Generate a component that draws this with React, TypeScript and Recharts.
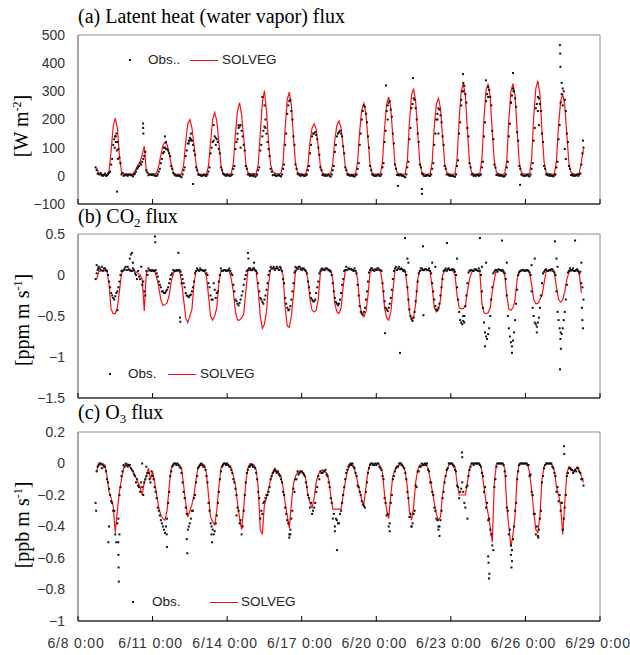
import React from "react";
import { ComposedChart, Line, Scatter, XAxis, YAxis, ReferenceArea } from "recharts";

type Pt = { t: number; v: number };
type Row = (number | null)[];

const _ = null;
const W = 630;
const PLOT_LEFT = 78;
const PLOT_RIGHT = 600;
const SANS = "'Liberation Sans', Arial, sans-serif";
const SERIF = "'Liberation Serif', 'Times New Roman', serif";

// hours since 6/8 0:00
const X_DOMAIN: [number, number] = [0, 504];
const X_TICKS = [0, 72, 144, 216, 288, 360, 432, 504];
const X_TICK_LABELS = ["6/8 0:00", "6/11 0:00", "6/14 0:00", "6/17 0:00", "6/20 0:00", "6/23 0:00", "6/26 0:00", "6/29 0:00"];

// one row per day (6/8 ... 6/28); values every 2 h
const EVEN_HOURS = [0, 2, 4, 6, 8, 10, 12, 14, 16, 18, 20, 22];
const ODD_HOURS = [1, 3, 5, 7, 9, 11, 13, 15, 17, 19, 21, 23];

// (a) latent heat flux [W m-2]
const LE_TICKS = [-100, 0, 100, 200, 300, 400, 500];
const leSim: Row[] = [
  [_, _, _, _, _, _, _, _, _, 28, 10, 6],
  [5, 4, 5, 18, 90, 175, 205, 170, 70, 15, 8, 6],
  [6, 5, 5, 12, 25, 40, 50, 75, 105, 15, 8, 6],
  [6, 6, 10, 35, 75, 108, 120, 112, 80, 40, 12, 6],
  [5, 5, 8, 40, 120, 185, 200, 170, 110, 40, 10, 5],
  [5, 4, 6, 35, 120, 200, 225, 195, 120, 40, 10, 6],
  [6, 5, 8, 45, 150, 230, 260, 215, 135, 45, 12, 8],
  [8, 6, 8, 40, 150, 260, 303, 230, 120, 40, 15, 10],
  [8, 6, 10, 45, 170, 270, 297, 250, 140, 45, 12, 8],
  [6, 5, 8, 40, 120, 170, 185, 165, 105, 35, 10, 6],
  [6, 5, 8, 45, 130, 180, 195, 170, 105, 35, 10, 6],
  [5, 5, 8, 50, 160, 235, 257, 220, 130, 40, 10, 6],
  [6, 5, 8, 50, 170, 255, 280, 240, 140, 45, 12, 8],
  [6, 5, 8, 55, 190, 285, 310, 265, 150, 50, 12, 8],
  [6, 5, 8, 50, 175, 255, 275, 240, 140, 45, 12, 8],
  [6, 5, 8, 60, 200, 300, 328, 285, 160, 50, 12, 8],
  [6, 5, 8, 60, 205, 305, 327, 280, 155, 50, 12, 8],
  [6, 5, 8, 55, 200, 300, 327, 285, 160, 50, 12, 8],
  [6, 5, 8, 60, 210, 310, 337, 290, 160, 50, 12, 8],
  [6, 5, 8, 55, 180, 265, 290, 250, 145, 45, 12, 8],
  [6, 5, 10, 50, 95, _, _, _, _, _, _, _],
];
const leObs: Row[] = [
  [_, _, _, _, _, _, _, _, 30, 8, 5, 2],
  [3, 0, 5, 15, 60, 130, 150, 95, 45, 10, 3, 5],
  [4, 2, -2, 8, 25, 35, 40, 60, 85, 12, 5, 3],
  [2, 0, 5, 25, 60, 85, 95, 90, 70, 25, 5, 0],
  [0, -2, 5, 30, 90, 125, 130, 110, 75, 20, 3, 0],
  [3, 0, 5, 30, 100, 125, 135, 120, 80, 20, 5, 0],
  [2, 0, 5, 35, 120, 170, 180, 140, 90, 25, 5, 2],
  [0, -3, 5, 30, 110, 160, 170, 120, 70, 15, 3, 0],
  [2, 0, 5, 40, 150, 250, 270, 200, 110, 25, 5, 0],
  [3, 0, 5, 35, 110, 150, 155, 130, 75, 20, 5, 2],
  [2, 0, 5, 35, 110, 150, 160, 140, 80, 20, 3, 0],
  [0, -3, 5, 45, 150, 230, 245, 190, 100, 20, 3, 0],
  [2, 0, 5, 45, 160, 250, 265, 210, 115, 25, 5, 2],
  [0, -3, 5, 50, 170, 255, 270, 200, 120, 30, 5, 0],
  [2, 0, 5, 45, 150, 220, 235, 190, 110, 25, 5, 0],
  [0, -2, 5, 55, 190, 300, 320, 260, 140, 30, 5, 2],
  [2, 0, 5, 50, 190, 290, 305, 250, 130, 30, 5, 0],
  [0, -3, 5, 50, 185, 285, 300, 245, 125, 25, 3, 0],
  [2, 0, 5, 45, 170, 255, 275, 230, 120, 25, 5, 0],
  [0, -2, 5, 50, 180, 290, 300, 230, 120, 25, 5, 2],
  [2, 0, 8, 80, _, _, _, _, _, _, _, _],
];
const leObsEven: Row[] = [
  [_, _, _, _, _, _, _, _, _, 20, 6, 10],
  [0, 8, 2, 10, 40, 110, 140, 120, 65, 5, 0, 2],
  [0, 5, 3, 5, 15, 30, 45, 50, 70, 20, 2, 5],
  [5, 2, 0, 15, 45, 80, 100, 95, 80, 35, 10, 2],
  [2, 0, -5, 20, 70, 115, 135, 125, 90, 30, 5, 3],
  [0, 5, 0, 15, 80, 120, 140, 130, 95, 30, 8, 2],
  [5, 0, 2, 25, 95, 150, 175, 160, 110, 35, 5, 0],
  [2, 5, 0, 20, 90, 140, 175, 150, 95, 25, 2, 5],
  [0, 3, -2, 25, 110, 220, 265, 230, 140, 40, 8, 2],
  [5, 0, 2, 20, 80, 140, 150, 145, 100, 30, 3, 0],
  [0, 5, -3, 20, 85, 140, 155, 150, 105, 30, 5, 2],
  [3, 0, 2, 25, 110, 200, 250, 220, 140, 35, 5, 0],
  [0, 5, 0, 30, 120, 230, 260, 235, 150, 40, 3, 2],
  [5, 0, -5, 30, 130, 240, 275, 240, 150, 40, 8, 0],
  [0, 3, 0, 25, 110, 200, 240, 215, 140, 35, 5, 2],
  [2, 0, -3, 35, 150, 270, 330, 290, 170, 45, 5, 0],
  [0, 5, 2, 30, 140, 265, 315, 280, 160, 40, 3, 2],
  [3, 0, 0, 30, 140, 260, 310, 275, 155, 35, 5, 0],
  [0, 5, -2, 25, 125, 240, 280, 255, 150, 35, 5, 2],
  [5, 0, 2, 30, 130, 260, 310, 270, 150, 35, 3, 0],
  [0, 5, 5, 40, 100, _, _, _, _, _, _, _],
];
const leObsExtra: [number, number][] = [
  [37.7, -56], [36.5, 120], [37.5, 90], [38.5, 60], [35.5, 100], [36.2, 140], [62.8, 186], [62.9, 170],
  [63.1, 150], [111, -29], [84, 140], [85, 120], [83, 100], [107, 115], [108, 125], [109, 150],
  [131, 180], [133, 110], [155, 180], [157, 100], [154, 130], [178, 280], [180, 250], [181, 200],
  [297.4, 321], [299, 200], [309, -36], [323.4, 347], [332, -47], [332.2, -64], [347, 200], [348, 150],
  [370, 250], [371.7, 361], [372, 300], [393.9, 339], [396, 280], [418, 260], [420, 365], [420.5, 300],
  [426.8, -32], [444, 230], [445, 180], [465.3, 464], [465.6, 434], [465.8, 387], [467, 330], [468, 250],
  [470, 95], [471, 60], [487.6, 125],
];

// (b) CO2 flux [ppm m s-1]
const CO2_TICKS = [-1.5, -1, -0.5, 0, 0.5];
const co2Sim: Row[] = [
  [_, _, _, _, _, _, _, _, _, -0.05, 0.04, 0.05],
  [0.06, 0.05, 0.04, -0.12, -0.42, -0.47, -0.47, -0.4, -0.2, 0.02, 0.06, 0.06],
  [0.06, 0.06, 0.05, 0.05, 0.04, 0.02, 0, -0.05, -0.44, 0.03, 0.05, 0.05],
  [0.05, 0.05, -0.03, -0.15, -0.3, -0.37, -0.36, -0.34, -0.25, -0.08, 0.02, 0.05],
  [0.06, 0.05, -0.08, -0.3, -0.52, -0.58, -0.5, -0.42, -0.1, 0.05, 0.06, 0.06],
  [0.06, 0.05, -0.02, -0.25, -0.5, -0.55, -0.5, -0.4, -0.1, 0.05, 0.06, 0.06],
  [0.06, 0.05, -0.05, -0.2, -0.45, -0.55, -0.55, -0.52, -0.48, -0.2, 0.05, 0.06],
  [0.07, 0.06, 0.04, -0.18, -0.5, -0.65, -0.6, -0.45, -0.1, 0.07, 0.08, 0.08],
  [0.08, 0.07, 0.06, 0, -0.4, -0.62, -0.64, -0.5, -0.25, 0.05, 0.07, 0.07],
  [0.07, 0.07, 0.05, -0.05, -0.3, -0.43, -0.45, -0.43, -0.3, 0.03, 0.07, 0.07],
  [0.07, 0.07, 0.06, -0.05, -0.35, -0.45, -0.47, -0.4, -0.15, 0.05, 0.07, 0.07],
  [0.07, 0.06, 0.05, -0.05, -0.35, -0.48, -0.51, -0.45, -0.25, 0.03, 0.06, 0.06],
  [0.06, 0.06, 0.05, -0.1, -0.4, -0.52, -0.55, -0.45, -0.2, 0.05, 0.07, 0.07],
  [0.07, 0.06, 0.04, -0.15, -0.45, -0.55, -0.52, -0.35, -0.05, 0.05, 0.06, 0.07],
  [0.07, 0.06, 0.04, -0.15, -0.4, -0.45, -0.42, -0.3, 0, 0.05, 0.06, 0.07],
  [0.06, 0.05, 0, -0.25, -0.4, -0.41, -0.41, -0.38, -0.2, -0.05, 0.03, 0.06],
  [0.06, 0.05, 0.04, -0.35, -0.46, -0.47, -0.46, -0.4, -0.2, -0.05, 0.06, 0.06],
  [0.06, 0.05, 0, -0.25, -0.42, -0.43, -0.4, -0.3, -0.05, 0.05, 0.06, 0.06],
  [0.06, 0.05, 0.03, -0.12, -0.3, -0.35, -0.35, -0.3, -0.25, -0.1, 0.04, 0.05],
  [0.05, 0.05, 0.03, -0.15, -0.3, -0.33, -0.3, -0.2, -0.05, 0.03, 0.05, 0.05],
  [0.05, 0.05, 0.02, -0.22, _, _, _, _, _, _, _, _],
];
const co2Obs: Row[] = [
  [_, _, _, _, _, _, _, _, -0.05, 0.06, 0.08, 0.1],
  [0.08, 0.06, 0, -0.15, -0.25, -0.3, -0.22, -0.15, 0, 0.05, 0.08, 0.06],
  [0.07, 0.05, 0.08, 0.02, -0.05, -0.02, 0.1, -0.08, -0.25, 0, 0.06, 0.05],
  [0.05, 0.06, -0.02, -0.12, -0.2, -0.22, -0.2, -0.15, -0.05, 0.02, 0.05, 0.06],
  [0.06, 0.04, -0.05, -0.15, -0.25, -0.27, -0.24, -0.15, 0.02, 0.08, 0.05, 0.06],
  [0.05, 0.06, 0, -0.15, -0.3, -0.1, -0.28, -0.2, 0, 0.05, 0.06, 0.05],
  [0.06, 0.05, 0, -0.2, -0.32, -0.37, -0.3, -0.2, -0.05, 0.05, 0.08, 0.06],
  [0.08, 0.06, 0.02, -0.2, -0.3, -0.35, -0.25, -0.1, 0.05, 0.08, 0.1, 0.08],
  [0.08, 0.1, 0.05, -0.1, -0.35, -0.43, -0.38, -0.2, 0.03, 0.08, 0.1, 0.08],
  [0.08, 0.06, 0.02, -0.15, -0.28, -0.32, -0.3, -0.15, 0.02, 0.07, 0.06, 0.08],
  [0.07, 0.05, 0, -0.2, -0.33, -0.37, -0.3, -0.12, 0.05, 0.1, 0.08, 0.07],
  [0.06, 0.08, 0.02, -0.25, -0.45, -0.48, -0.4, -0.2, 0.03, 0.08, 0.06, 0.07],
  [0.08, 0.06, 0.05, -0.2, -0.4, -0.44, -0.35, -0.18, 0.05, 0.1, 0.08, 0.07],
  [0.07, 0.06, 0, -0.3, -0.5, -0.56, -0.45, -0.2, 0.02, 0.08, 0.06, 0.07],
  [0.06, 0.08, 0.02, -0.2, -0.38, -0.43, -0.35, -0.15, 0.05, 0.08, 0.07, 0.06],
  [0.07, 0.06, 0, -0.3, -0.55, -0.6, -0.5, -0.25, 0.03, 0.06, 0.05, 0.07],
  [0.06, 0.08, 0, -0.4, -0.7, -0.78, -0.65, -0.3, 0.02, 0.06, 0.04, 0.06],
  [0.05, 0.04, -0.05, -0.5, -0.75, -0.87, -0.7, -0.35, 0, 0.05, 0.06, 0.05],
  [0.06, 0.05, 0, -0.4, -0.58, -0.63, -0.52, -0.25, 0.02, 0.06, 0.05, 0.06],
  [0.07, 0.05, 0, -0.45, -0.65, -0.72, -0.55, -0.3, 0.03, 0.08, 0.06, 0.05],
  [0.06, 0.05, 0.04, -0.15, _, _, _, _, _, _, _, _],
];
const co2ObsEven: Row[] = [
  [_, _, _, _, _, _, _, _, _, 0.02, 0.1, 0.06],
  [0.05, 0.08, 0.05, -0.08, -0.22, -0.28, -0.26, -0.2, -0.08, 0.05, 0.06, 0.1],
  [0.1, 0.06, 0.05, 0.06, 0, 0.05, -0.05, -0.12, -0.2, 0.05, 0.08, 0.06],
  [0.06, 0.05, 0.02, -0.08, -0.15, -0.2, -0.22, -0.18, -0.1, 0, 0.06, 0.05],
  [0.05, 0.06, 0, -0.1, -0.22, -0.26, -0.25, -0.2, -0.08, 0.05, 0.06, 0.08],
  [0.06, 0.05, 0.02, -0.1, -0.25, -0.3, -0.18, -0.22, -0.08, 0.08, 0.05, 0.06],
  [0.05, 0.08, 0.02, -0.12, -0.3, -0.35, -0.34, -0.25, -0.12, 0, 0.06, 0.08],
  [0.06, 0.08, 0.05, -0.1, -0.28, -0.33, -0.3, -0.18, 0, 0.1, 0.08, 0.06],
  [0.1, 0.06, 0.08, -0.05, -0.28, -0.4, -0.42, -0.3, -0.1, 0.05, 0.08, 0.1],
  [0.06, 0.08, 0.05, -0.08, -0.22, -0.3, -0.32, -0.22, -0.08, 0.05, 0.08, 0.06],
  [0.08, 0.06, 0.04, -0.1, -0.28, -0.35, -0.35, -0.22, -0.05, 0.06, 0.06, 0.08],
  [0.07, 0.05, 0.05, -0.12, -0.38, -0.47, -0.45, -0.3, -0.08, 0.06, 0.08, 0.05],
  [0.06, 0.08, 0.06, -0.1, -0.32, -0.42, -0.4, -0.28, -0.05, 0.08, 0.06, 0.1],
  [0.08, 0.05, 0.04, -0.15, -0.42, -0.53, -0.52, -0.32, -0.08, 0.05, 0.08, 0.06],
  [0.07, 0.06, 0.05, -0.1, -0.3, -0.42, -0.4, -0.25, -0.05, 0.06, 0.05, 0.08],
  [0.06, 0.07, 0.04, -0.15, -0.45, -0.58, -0.56, -0.38, -0.1, 0.05, 0.06, 0.05],
  [0.07, 0.05, 0.05, -0.2, -0.58, -0.75, -0.72, -0.5, -0.15, 0.04, 0.06, 0.07],
  [0.06, 0.06, 0.02, -0.25, -0.65, -0.82, -0.8, -0.55, -0.18, 0.03, 0.05, 0.06],
  [0.05, 0.06, 0.03, -0.2, -0.5, -0.6, -0.58, -0.4, -0.1, 0.04, 0.07, 0.05],
  [0.06, 0.07, 0.03, -0.2, -0.55, -0.7, -0.65, -0.45, -0.12, 0.05, 0.06, 0.08],
  [0.05, 0.07, 0.02, -0.1, -0.3, _, _, _, _, _, _, _],
];
const co2ObsExtra: [number, number][] = [
  [18, 0.12], [19.5, 0.08], [38, -0.43], [50, 0.2], [51, 0.25], [52.1, 0.27], [53, 0.15], [74.3, 0.47],
  [74.6, 0.4], [96.9, 0.27], [98.5, -0.52], [98.8, -0.57], [100, -0.1], [164.1, 0.27], [164.5, 0.2],
  [170, 0.15], [210, 0.1], [296.4, -0.71], [310.9, -0.95], [315.7, 0.45], [318, 0.2], [319, 0.15],
  [333.1, 0.35], [333.5, -0.49], [342, 0.15], [345, 0.1], [356.3, 0.39], [366, 0.2], [372, -0.5],
  [373, -0.58], [388.1, 0.45], [390, 0.1], [393, -0.87], [394, 0.15], [409.4, 0.42], [414, 0.15],
  [419, -0.95], [438, 0.12], [441, 0.2], [443, -0.7], [460.5, 0.41], [462, 0.2], [463, 0.1],
  [465.4, -1.15], [465.8, -0.78], [466.2, -0.9], [479.9, 0.42], [486, 0.15], [486.5, -0.4],
  [487, -0.55], [487.5, -0.65],
];

// (c) O3 flux [ppb m s-1]
const O3_TICKS = [-1, -0.8, -0.6, -0.4, -0.2, 0, 0.2];
const o3Sim: Row[] = [
  [_, _, _, _, _, _, _, _, _, -0.05, 0, -0.01],
  [0, -0.01, -0.08, -0.18, -0.22, -0.27, -0.44, -0.3, -0.18, -0.1, -0.03, -0.01],
  [0, -0.02, -0.04, -0.06, -0.09, -0.12, -0.15, -0.2, -0.12, -0.08, -0.03, -0.1],
  [-0.05, -0.12, -0.2, -0.28, -0.33, -0.35, -0.36, -0.3, -0.15, -0.03, 0, 0],
  [0, -0.01, -0.03, -0.14, -0.25, -0.34, -0.3, -0.26, -0.2, -0.1, -0.02, 0],
  [0, -0.01, -0.06, -0.2, -0.34, -0.37, -0.39, -0.3, -0.15, -0.03, 0, 0],
  [0, -0.01, -0.03, -0.08, -0.14, -0.25, -0.35, -0.42, -0.28, -0.12, -0.03, 0],
  [0, -0.01, -0.04, -0.15, -0.42, -0.45, -0.26, -0.22, -0.16, -0.1, -0.06, -0.03],
  [-0.05, -0.06, -0.08, -0.15, -0.25, -0.33, -0.41, -0.26, -0.13, -0.08, -0.06, -0.05],
  [-0.05, -0.06, -0.1, -0.2, -0.25, -0.28, -0.22, -0.12, -0.07, -0.05, -0.04, -0.05],
  [-0.06, -0.1, -0.2, -0.29, -0.29, -0.29, -0.29, -0.29, -0.2, -0.12, -0.05, -0.02],
  [0, -0.02, -0.06, -0.12, -0.18, -0.23, -0.26, -0.15, -0.05, 0, 0, 0],
  [0, 0, -0.02, -0.06, -0.2, -0.3, -0.35, -0.2, -0.08, -0.04, -0.02, -0.01],
  [-0.01, -0.02, -0.05, -0.15, -0.3, -0.36, -0.28, -0.12, -0.04, -0.01, -0.01, 0],
  [0, -0.03, -0.1, -0.17, -0.25, -0.32, -0.36, -0.34, -0.2, -0.1, -0.05, -0.01],
  [0, 0, -0.02, -0.12, -0.2, -0.2, -0.2, -0.2, -0.12, -0.03, 0, 0],
  [0, 0, 0, -0.05, -0.15, -0.25, -0.32, -0.4, -0.5, -0.12, 0, 0],
  [0, 0, -0.03, -0.27, -0.4, -0.53, -0.45, -0.33, -0.08, 0, 0, 0],
  [0, 0, -0.06, -0.17, -0.3, -0.42, -0.44, -0.33, -0.1, -0.02, 0, 0],
  [0, -0.01, -0.05, -0.15, -0.2, -0.27, -0.45, -0.25, -0.06, -0.02, -0.03, -0.05],
  [-0.04, -0.02, -0.05, -0.08, -0.12, _, _, _, _, _, _, _],
];
const o3Obs: Row[] = [
  [_, _, _, _, _, _, _, _, -0.25, -0.02, 0, -0.03],
  [-0.02, -0.05, -0.12, -0.2, -0.25, -0.3, -0.5, -0.35, -0.15, -0.05, -0.02, -0.01],
  [-0.01, -0.03, -0.05, -0.08, -0.1, -0.15, -0.12, -0.2, -0.1, -0.06, -0.1, -0.05],
  [-0.1, -0.18, -0.28, -0.33, -0.38, -0.42, -0.4, -0.25, -0.08, -0.02, 0, -0.01],
  [-0.01, -0.03, -0.12, -0.22, -0.32, -0.4, -0.35, -0.3, -0.2, -0.08, -0.02, 0],
  [-0.02, -0.04, -0.12, -0.3, -0.4, -0.45, -0.38, -0.25, -0.1, -0.02, 0, -0.01],
  [-0.01, -0.02, -0.06, -0.12, -0.2, -0.3, -0.36, -0.4, -0.2, -0.06, -0.02, -0.01],
  [-0.02, -0.03, -0.1, -0.22, -0.3, -0.25, -0.22, -0.2, -0.15, -0.08, -0.05, -0.05],
  [-0.05, -0.08, -0.12, -0.2, -0.32, -0.38, -0.42, -0.3, -0.18, -0.1, -0.07, -0.05],
  [-0.06, -0.08, -0.15, -0.22, -0.25, -0.3, -0.25, -0.15, -0.1, -0.06, -0.05, -0.04],
  [-0.08, -0.15, -0.25, -0.32, -0.35, -0.38, -0.32, -0.25, -0.15, -0.06, -0.02, 0],
  [0, -0.03, -0.08, -0.15, -0.2, -0.26, -0.28, -0.12, -0.03, 0, -0.01, 0],
  [0, -0.02, -0.04, -0.1, -0.25, -0.32, -0.38, -0.2, -0.08, -0.03, -0.02, 0],
  [-0.01, -0.03, -0.1, -0.22, -0.32, -0.38, -0.3, -0.15, -0.05, -0.02, -0.01, 0],
  [0, -0.05, -0.12, -0.2, -0.3, -0.36, -0.4, -0.3, -0.18, -0.08, -0.03, 0],
  [0, -0.02, -0.05, -0.15, -0.18, -0.12, -0.25, -0.15, -0.08, -0.02, 0, 0],
  [0, 0, -0.02, -0.08, -0.15, -0.25, -0.35, -0.45, -0.55, -0.1, 0, 0],
  [0, -0.01, -0.08, -0.3, -0.42, -0.55, -0.4, -0.25, -0.05, 0, 0, 0],
  [0, -0.01, -0.07, -0.2, -0.32, -0.4, -0.42, -0.3, -0.08, -0.01, 0, 0],
  [0, -0.03, -0.08, -0.15, -0.2, -0.25, -0.35, -0.2, -0.06, -0.03, -0.04, -0.05],
  [-0.05, -0.03, -0.06, -0.1, _, _, _, _, _, _, _, _],
];
const o3ObsEven: Row[] = [
  [_, _, _, _, _, _, _, _, _, -0.05, -0.01, 0],
  [-0.01, -0.02, -0.1, -0.16, -0.24, -0.3, -0.45, -0.38, -0.2, -0.08, -0.01, 0],
  [-0.02, -0.01, -0.04, -0.07, -0.12, -0.14, -0.18, -0.15, -0.12, -0.08, -0.06, -0.12],
  [-0.08, -0.15, -0.22, -0.3, -0.36, -0.4, -0.44, -0.35, -0.18, -0.05, -0.01, 0],
  [0, -0.02, -0.06, -0.18, -0.28, -0.42, -0.38, -0.3, -0.22, -0.12, -0.03, -0.01],
  [-0.01, -0.02, -0.08, -0.25, -0.38, -0.42, -0.43, -0.33, -0.18, -0.05, -0.01, 0],
  [0, -0.02, -0.04, -0.1, -0.16, -0.28, -0.38, -0.45, -0.3, -0.12, -0.04, -0.02],
  [-0.01, -0.02, -0.06, -0.18, -0.35, -0.32, -0.24, -0.2, -0.18, -0.1, -0.06, -0.04],
  [-0.06, -0.07, -0.1, -0.18, -0.28, -0.36, -0.45, -0.35, -0.16, -0.1, -0.05, -0.06],
  [-0.05, -0.07, -0.12, -0.2, -0.28, -0.32, -0.28, -0.18, -0.08, -0.05, -0.06, -0.05],
  [-0.07, -0.12, -0.22, -0.35, -0.4, -0.36, -0.38, -0.3, -0.2, -0.1, -0.04, -0.01],
  [-0.01, -0.02, -0.06, -0.14, -0.18, -0.24, -0.27, -0.18, -0.06, -0.01, 0, -0.01],
  [-0.01, 0, -0.03, -0.08, -0.22, -0.33, -0.4, -0.25, -0.1, -0.05, -0.02, 0],
  [0, -0.02, -0.06, -0.18, -0.34, -0.4, -0.32, -0.14, -0.05, -0.02, 0, -0.01],
  [-0.01, -0.04, -0.12, -0.18, -0.28, -0.35, -0.4, -0.36, -0.22, -0.12, -0.04, 0],
  [0, -0.01, -0.04, -0.14, -0.22, -0.16, -0.18, -0.28, -0.14, -0.04, 0, -0.01],
  [0, 0, -0.01, -0.06, -0.18, -0.28, -0.36, -0.42, -0.52, -0.15, -0.02, 0],
  [0, 0, -0.05, -0.28, -0.45, -0.52, -0.48, -0.3, -0.1, -0.01, 0, 0],
  [0, -0.01, -0.08, -0.18, -0.32, -0.45, -0.46, -0.35, -0.12, -0.03, 0, 0],
  [0, -0.02, -0.06, -0.18, -0.24, -0.3, -0.42, -0.28, -0.08, -0.03, -0.04, -0.06],
  [-0.04, -0.03, -0.05, -0.1, -0.14, _, _, _, _, _, _, _],
];
const o3ObsExtra: [number, number][] = [
  [17.5, -0.3], [29.3, -0.5], [30, -0.4], [38.9, -0.5], [39, -0.58], [39.2, -0.66], [39.4, -0.75],
  [40, -0.45], [62, 0], [66, -0.02], [85.6, -0.45], [86, -0.53], [105, -0.48], [105.5, -0.57],
  [128.8, -0.45], [129.5, -0.5], [153, -0.33], [204, -0.47], [205, -0.45], [248, -0.43], [250, -0.55],
  [301, -0.43], [322, -0.4], [348, -0.42], [349, -0.46], [370.8, 0.07], [371, 0.04], [376, -0.35],
  [396, -0.59], [396.4, -0.63], [396.8, -0.73], [397.2, -0.7], [418, -0.58], [418.5, -0.66],
  [419, -0.62], [444.5, -0.47], [469.2, 0.11], [469.5, 0.06], [467, -0.25],
];

function toPoints(rows: Row[], hours: number[]): Pt[] {
  const out: Pt[] = [];
  rows.forEach((row, day) =>
    row.forEach((v, i) => {
      if (v !== null) out.push({ t: day * 24 + hours[i], v });
    })
  );
  return out;
}

const fromPairs = (pairs: [number, number][]): Pt[] => pairs.map(([t, v]) => ({ t, v }));

const obsPoints = (odd: Row[], even: Row[], extra: [number, number][]) => [
  ...toPoints(odd, ODD_HOURS),
  ...toPoints(even, EVEN_HOURS),
  ...fromPairs(extra),
];

const minus = (v: number) => String(v).replace("-", "\u2212");

function DateTick(props: any) {
  const { x, y, payload, showLabel } = props;
  const label = X_TICK_LABELS[X_TICKS.indexOf(payload.value)];
  return (
    <g>
      <line x1={x} x2={x} y1={y} y2={y - 5} stroke="#000" />
      {showLabel && (
        <text x={x - 2} y={y + 27} textAnchor="middle" fill="#333" fontSize={14} fontFamily={SANS} letterSpacing={0.8}>
          {label}
        </text>
      )}
    </g>
  );
}

const ObsDot = (props: any) => (
  <rect x={props.cx - 1} y={props.cy - 1} width={2} height={2} fill="#111" />
);

type PanelProps = {
  top: number;
  height: number;
  marginTop: number;
  axisHeight: number;
  sim: Pt[];
  obs: Pt[];
  domain: [number, number];
  ticks: number[];
  showDates: boolean;
};

function FluxPanel({ top, height, marginTop, axisHeight, sim, obs, domain, ticks, showDates }: PanelProps) {
  return (
    <div style={{ position: "absolute", left: 0, top }}>
      <ComposedChart width={W} height={height} margin={{ top: marginTop, right: W - PLOT_RIGHT, bottom: 0, left: 0 }}>
        <ReferenceArea x1={X_DOMAIN[0]} x2={X_DOMAIN[1]} y1={domain[0]} y2={domain[1]} fill="none" stroke="#8c8c8c" />
        <XAxis
          dataKey="t"
          type="number"
          domain={X_DOMAIN}
          ticks={X_TICKS}
          interval={0}
          height={axisHeight}
          tickLine={false}
          tickSize={0}
          tickMargin={0}
          axisLine={{ stroke: "#000" }}
          tick={(p: any) => <DateTick {...p} showLabel={showDates} />}
        />
        <YAxis
          dataKey="v"
          type="number"
          domain={domain}
          ticks={ticks}
          interval={0}
          width={PLOT_LEFT}
          tickLine={false}
          tickMargin={7}
          axisLine={{ stroke: "#8c8c8c" }}
          tickFormatter={minus}
          tick={{ fill: "#333", fontSize: 14, fontFamily: SANS }}
        />
        <Line data={sim} dataKey="v" type="linear" stroke="#ff1010" strokeWidth={1.2} dot={false} isAnimationActive={false} />
        <Scatter data={obs} dataKey="v" shape={ObsDot} isAnimationActive={false} />
      </ComposedChart>
    </div>
  );
}

function LegendBox({ y, dotX, obsLabel, textX, lineX, solX }: { y: number; dotX: number; obsLabel: string; textX: number; lineX: number; solX: number }) {
  const text: React.CSSProperties = { position: "absolute", top: y - 8, lineHeight: "16px", fontSize: 13.5, fontFamily: SANS, color: "#222", whiteSpace: "nowrap" };
  return (
    <>
      <div style={{ position: "absolute", left: dotX - 1, top: y - 1, width: 2, height: 2, background: "#111" }} />
      <div style={{ ...text, left: textX }}>{obsLabel}</div>
      <div style={{ position: "absolute", left: lineX, top: y, width: 28, height: 1.3, background: "#ff1010" }} />
      <div style={{ ...text, left: solX }}>SOLVEG</div>
    </>
  );
}

const title: React.CSSProperties = { position: "absolute", left: PLOT_LEFT, fontFamily: SERIF, fontSize: 20, lineHeight: "20px", color: "#000", whiteSpace: "nowrap" };
const yTitle: React.CSSProperties = { position: "absolute", transform: "translate(-50%, -50%) rotate(-90deg)", fontFamily: SERIF, fontSize: 20, lineHeight: "20px", color: "#000", whiteSpace: "nowrap" };
const sup: React.CSSProperties = { fontSize: "0.6em", verticalAlign: "0.6em" };
const sub: React.CSSProperties = { fontSize: "0.65em", verticalAlign: "-0.3em" };

export default function App() {
  return (
    <div style={{ position: "absolute", left: 0, top: 0, width: W, height: 655, background: "#fff", overflow: "hidden" }}>
      <FluxPanel top={0} height={215} marginTop={35} axisHeight={11} sim={toPoints(leSim, EVEN_HOURS)}
        obs={obsPoints(leObs, leObsEven, leObsExtra)} domain={[-100, 500]} ticks={LE_TICKS} showDates={false} />
      <FluxPanel top={215} height={195} marginTop={19} axisHeight={12} sim={toPoints(co2Sim, EVEN_HOURS)}
        obs={obsPoints(co2Obs, co2ObsEven, co2ObsExtra)} domain={[-1.5, 0.5]} ticks={CO2_TICKS} showDates={false} />
      <FluxPanel top={410} height={245} marginTop={22} axisHeight={34} sim={toPoints(o3Sim, EVEN_HOURS)}
        obs={obsPoints(o3Obs, o3ObsEven, o3ObsExtra)} domain={[-1, 0.2]} ticks={O3_TICKS} showDates />

      <div style={{ ...title, top: 6 }}>(a) Latent heat (water vapor) flux</div>
      <div style={{ ...title, top: 206 }}>(b) CO<span style={sub}>2</span> flux</div>
      <div style={{ ...title, top: 402 }}>(c) O<span style={sub}>3</span> flux</div>

      <div style={{ ...yTitle, left: 19, top: 126 }}>[W m<span style={sup}>-2</span>]</div>
      <div style={{ ...yTitle, left: 20, top: 320 }}>[ppm m s<span style={sup}>-1</span>]</div>
      <div style={{ ...yTitle, left: 20, top: 525 }}>[ppb m s<span style={sup}>-1</span>]</div>

      <LegendBox y={60} dotX={130} obsLabel="Obs.." textX={148} lineX={190} solX={222} />
      <LegendBox y={374} dotX={110} obsLabel="Obs." textX={128} lineX={168} solX={200} />
      <LegendBox y={602} dotX={133} obsLabel="Obs." textX={152} lineX={210} solX={241} />
    </div>
  );
}
